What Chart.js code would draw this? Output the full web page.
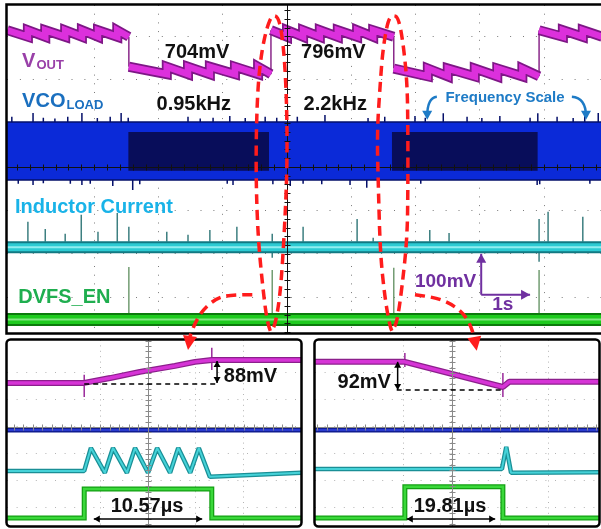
<!DOCTYPE html>
<html>
<head>
<meta charset="utf-8">
<script src="https://cdn.jsdelivr.net/npm/chart.js@4.4.1/dist/chart.umd.min.js"></script>
<style>
  html, body { margin: 0; padding: 0; background: #fff; }
  #wrap { position: relative; width: 601px; height: 529px; overflow: hidden; }
  canvas { position: absolute; }
  #topChart { left: 0; top: 0; z-index: 2; }
  #upZoom { left: 0; top: 335px; z-index: 1; }
  #downZoom { left: 310px; top: 335px; z-index: 1; }
</style>
</head>
<body>
<div id="wrap">
  <canvas id="upZoom" width="305" height="194"></canvas>
  <canvas id="downZoom" width="291" height="194"></canvas>
  <canvas id="topChart" width="601" height="529"></canvas>
</div>
<script>
// all values in scope divisions (x: grid columns, y: grid rows, 0 = screen centre)

// ---- long capture (top screen) ----
// VOUT ripple: tooth edges, level at start and end of each tooth
const voutEdges = [-4.35, -4.03, -3.76, -3.45, -3.19, -2.94, -2.64, -2.46, -1.87, -1.54, -1.20, -0.81, -0.45, -0.25,
                   0.00, 0.25, 0.51, 0.79, 1.09, 1.34, 1.66, 2.19, 2.50, 2.92, 3.27, 3.66, 3.92, 4.29, 4.60, 4.90];
const voutStart = [3.14, 3.14, 3.14, 3.14, 3.14, 3.14, 3.14, 2.30, 2.30, 2.30, 2.30, 2.30, 2.30,
                   3.14, 3.14, 3.14, 3.14, 3.14, 3.14, 3.14, 2.26, 2.26, 2.26, 2.26, 2.26, 2.26, 3.14, 3.14, 3.14];
const voutEnd   = [2.99, 2.99, 2.99, 2.99, 2.99, 2.99, 2.99, 2.13, 2.13, 2.13, 2.13, 2.13, 2.13,
                   2.99, 2.99, 2.99, 2.99, 2.99, 2.99, 2.99, 2.08, 2.08, 2.08, 2.08, 2.08, 2.08, 2.99, 2.99, 2.99];

// VCO load band and its glitches
const vcoTop = 1.03;
const vcoBottom = -0.30;
const vcoUpX = [-4.28, -3.95, -3.79, -3.61, -3.41, -3.19, -2.95, -2.75, -2.58, -2.47, -1.54, -1.35, -1.15, -0.89, -0.65, -0.34, -0.16, 0.16,
                0.59, 1.26, 1.52, 1.99, 2.15, 2.43, 2.80, 3.03, 3.31, 3.78, 3.90, 4.20, 4.45, 4.63, 4.84];
const vcoUpH = [0.12, 0.21, 0.10, 0.08, 0.12, 0.21, 0.09, 0.12, 0.21, 0.10, 0.12, 0.08, 0.10, 0.14, 0.09, 0.12, 0.10, 0.12,
                0.16, 0.09, 0.12, 0.14, 0.10, 0.20, 0.12, 0.09, 0.14, 0.10, 0.20, 0.12, 0.09, 0.14, 0.21];
const vcoDownX = [-4.18, -3.95, -3.79, -3.37, -3.19, -3.06, -2.71, -2.40, -2.29, -0.93, -0.84, -0.22, 0.05, 0.25, 0.54, 0.98,
                  1.24, 1.42, 2.08, 3.89, 3.93, 4.71];
const vcoDownH = [0.09, 0.12, 0.08, 0.09, 0.12, 0.09, 0.14, 0.23, 0.10, 0.09, 0.12, 0.10, 0.14, 0.09, 0.10, 0.12,
                  0.18, 0.10, 0.09, 0.12, 0.10, 0.09];
// slow-clock windows (dark blocks)
const slowFrom = [-2.47, 1.63];
const slowTo = [-0.28, 3.90];
const slowLevels = [0.80, -0.09];

// inductor current
const ilLevel = -1.85;
const ilEdge = -1.72;
const ilSpikeX = [-4.03, -3.76, -3.45, -3.20, -2.94, -2.64, -2.46, -1.87, -1.54, -1.20, -0.78, -0.23, 0.25, 1.09, 1.34, 2.22, 2.52, 3.92, 4.06, 4.60];
const ilSpikeTop = [-1.26, -1.43, -1.54, -1.10, -1.49, -1.06, -1.38, -1.49, -1.56, -1.45, -1.38, -1.54, -1.38, -1.20, -1.63, -1.45, -1.52, -1.20, -1.03, -1.15];
const ilDipX = [-0.23, 3.92];
const ilDipBottom = [-2.09, -2.18];

// DVFS enable
const enLevel = -3.51;
const enEdge = -3.36;
const enSpikeX = [-2.46, -0.23, 1.66, 3.92];
const enSpikeTop = [-2.30, -2.37, -2.32, -2.37];

// ---- zoom: step up (left) ----
const upVoutX = [-2.94, -1.33, -0.79, -0.17, 0.56, 0.98, 1.33, 3.19];
const upVoutY = [1.63, 1.63, 1.81, 2.04, 2.26, 2.41, 2.48, 2.48];
const upVcoX = [-2.94, 3.19];
const upVcoY = [-0.11, -0.11];
const upIlX = [-2.94, -1.33, -1.19, -0.90, -0.73, -0.44, -0.27, 0.00, 0.19, 0.46, 0.63, 0.88, 1.06, 1.29, 3.19];
const upIlY = [-1.63, -1.63, -0.78, -1.70, -0.78, -1.70, -0.78, -1.70, -0.78, -1.70, -0.78, -1.70, -0.78, -1.85, -1.70];
const upEnX = [-2.94, -1.33, -1.33, 1.33, 1.33, 3.19];
const upEnY = [-3.37, -3.37, -2.30, -2.30, -3.37, -3.37];
const upMarkX = [-1.33, 1.33];
const upMarkLo = [1.11, 2.11];
const upMarkHi = [1.93, 2.93];

// ---- zoom: step down (right) ----
const downVoutX = [-2.85, -0.98, 1.06, 1.19, 3.06];
const downVoutY = [2.41, 2.41, 1.48, 1.67, 1.67];
const downVcoX = [-2.85, 3.06];
const downVcoY = [-0.11, -0.11];
const downIlX = [-2.85, 1.04, 1.13, 1.23, 3.06];
const downIlY = [-1.56, -1.56, -0.74, -1.70, -1.68];
const downEnX = [-2.85, -0.98, -0.98, 1.06, 1.06, 3.06];
const downEnY = [-3.37, -3.37, -2.22, -2.22, -3.37, -3.37];
const downMarkX = [-0.98, 1.06];
const downMarkLo = [2.22, 1.11];
const downMarkHi = [2.74, 2.00];

// ---------- helpers ----------
function pts(xs, ys) { return xs.map((x, i) => ({ x, y: ys[i] })); }

function sticks(xs, lo, hi) {
  const out = [];
  xs.forEach((x, i) => {
    out.push({ x, y: Array.isArray(lo) ? lo[i] : lo }, { x, y: hi[i] }, { x, y: null });
  });
  return out;
}

function edgeSpikes(xs, base, h, dir, from, to) {
  const out = [{ x: from, y: base }];
  xs.forEach((x, i) => { out.push({ x, y: base }, { x, y: base + dir * h[i] }, { x, y: base }); });
  out.push({ x: to, y: base });
  return out;
}

function line(data, color, width, extra) {
  return Object.assign({
    type: 'line', data, borderColor: color, borderWidth: width,
    pointRadius: 0, fill: false, tension: 0, spanGaps: false, borderJoinStyle: 'bevel'
  }, extra || {});
}

function scale(min, max, color, dash) {
  return {
    type: 'linear', min, max,
    ticks: { display: false, stepSize: 1 },
    grid: { color, lineWidth: 1, drawTicks: false },
    border: { display: false, dash },
    afterBuildTicks: s => { s.ticks = s.ticks.filter(t => Math.abs(t.value - Math.round(t.value)) < 1e-6); }
  };
}

const FONT = '"Liberation Sans", Arial, sans-serif';

function head(ctx, x0, y0, x1, y1, len, half) {
  const a = Math.atan2(y1 - y0, x1 - x0), c = Math.cos(a), s = Math.sin(a);
  ctx.beginPath();
  ctx.moveTo(x1, y1);
  ctx.lineTo(x1 - len * c + half * s, y1 - len * s - half * c);
  ctx.lineTo(x1 - len * c - half * s, y1 - len * s + half * c);
  ctx.closePath();
  ctx.fill();
}

function smooth(ctx, p) {
  ctx.moveTo(p[0][0], p[0][1]);
  for (let i = 1; i < p.length - 1; i++) {
    ctx.quadraticCurveTo(p[i][0], p[i][1], (p[i][0] + p[i + 1][0]) / 2, (p[i][1] + p[i + 1][1]) / 2);
  }
  ctx.lineTo(p[p.length - 1][0], p[p.length - 1][1]);
}

// screen decorations: centre axes, frame, labels, arrows, red call-outs
function decor(spec) {
  return {
    id: 'decor',
    afterDatasetsDraw(chart) {
      const { ctx, chartArea: a, scales: { x, y } } = chart;
      const cx = Math.round(x.getPixelForValue(0)) + 0.5, cy = Math.round(y.getPixelForValue(0)) + 0.5;
      ctx.save();
      ctx.strokeStyle = spec.axisColor;
      ctx.lineWidth = 1;
      ctx.beginPath();
      ctx.moveTo(cx, a.top); ctx.lineTo(cx, a.bottom);
      ctx.moveTo(a.left, cy); ctx.lineTo(a.right, cy);
      for (let k = Math.ceil(y.min * 5); k <= Math.floor(y.max * 5); k++) {
        const py = Math.round(y.getPixelForValue(k / 5)) + 0.5;
        ctx.moveTo(cx - 3, py); ctx.lineTo(cx + 3, py);
      }
      for (let k = Math.ceil(x.min * 5); k <= Math.floor(x.max * 5); k++) {
        const px = Math.round(x.getPixelForValue(k / 5)) + 0.5;
        ctx.moveTo(px, cy - 3); ctx.lineTo(px, cy + 3);
      }
      ctx.stroke();
      ctx.restore();
    },
    afterDraw(chart) {
      const { ctx, chartArea: a, scales: { x, y } } = chart;
      const X = v => x.getPixelForValue(v), Y = v => y.getPixelForValue(v);
      ctx.save();

      // frame
      ctx.strokeStyle = '#000';
      ctx.lineWidth = 2.5;
      ctx.beginPath();
      if (spec.openRight) {
        ctx.moveTo(a.right + 2, a.top - 0.5);
        ctx.lineTo(a.left - 0.5, a.top - 0.5);
        ctx.lineTo(a.left - 0.5, a.bottom + 0.5);
        ctx.lineTo(a.right + 2, a.bottom + 0.5);
      } else {
        ctx.roundRect(a.left - 0.5, a.top - 0.5, a.right - a.left + 1, a.bottom - a.top + 1, 4);
      }
      ctx.stroke();

      // dashed level guides
      ctx.setLineDash([5, 4]);
      ctx.lineWidth = 1.5;
      (spec.guides || []).forEach(g => {
        ctx.beginPath();
        ctx.moveTo(X(g.x0), Y(g.y)); ctx.lineTo(X(g.x1), Y(g.y));
        ctx.stroke();
      });
      ctx.setLineDash([]);

      // double-headed measure arrows
      ctx.fillStyle = '#000';
      (spec.measures || []).forEach(m => {
        const x0 = X(m.x0), y0 = Y(m.y0), x1 = X(m.x1), y1 = Y(m.y1);
        ctx.lineWidth = 1.5;
        ctx.beginPath(); ctx.moveTo(x0, y0); ctx.lineTo(x1, y1); ctx.stroke();
        head(ctx, x1, y1, x0, y0, 6, 3.5);
        head(ctx, x0, y0, x1, y1, 6, 3.5);
      });

      // straight arrows
      (spec.arrows || []).forEach(m => {
        const x0 = X(m.x0), y0 = Y(m.y0), x1 = X(m.x1), y1 = Y(m.y1);
        ctx.strokeStyle = m.color; ctx.fillStyle = m.color; ctx.lineWidth = 2;
        ctx.beginPath(); ctx.moveTo(x0, y0); ctx.lineTo(x1, y1); ctx.stroke();
        head(ctx, x0, y0, x1, y1, 9, 5);
      });

      // bent arrows
      (spec.bends || []).forEach(b => {
        const p = b.pts.map(q => [X(q[0]), Y(q[1])]);
        ctx.strokeStyle = b.color; ctx.fillStyle = b.color; ctx.lineWidth = 2.5;
        ctx.beginPath(); ctx.moveTo(p[0][0], p[0][1]);
        ctx.quadraticCurveTo(p[1][0], p[1][1], p[2][0], p[2][1]);
        ctx.stroke();
        head(ctx, p[1][0], p[1][1], p[2][0], p[2][1] + 3, 9, 5);
      });

      // labels
      ctx.textBaseline = 'alphabetic';
      ctx.textAlign = 'left';
      (spec.texts || []).forEach(t => {
        const main = `bold ${t.size}px ${FONT}`, sub = `bold ${t.subSize || 13}px ${FONT}`;
        ctx.font = main;
        const w = ctx.measureText(t.text).width;
        let sw = 0;
        if (t.sub) { ctx.font = sub; sw = ctx.measureText(t.sub).width + 1; }
        let left = X(t.x);
        if (t.align === 'center') left -= (w + sw) / 2;
        if (t.align === 'right') left -= w + sw;
        ctx.fillStyle = t.color;
        ctx.font = main;
        ctx.fillText(t.text, left, Y(t.y));
        if (t.sub) { ctx.font = sub; ctx.fillText(t.sub, left + w + 1, Y(t.y) + 2); }
      });

      // red dashed call-outs
      ctx.strokeStyle = '#ff1c1c';
      ctx.fillStyle = '#ff1c1c';
      ctx.lineWidth = 3.5;
      (spec.callouts || []).forEach(c => {
        const p = c.pts.map(q => [X(q[0]), Y(q[1])]);
        ctx.setLineDash([10, 6]);
        ctx.beginPath();
        if (c.tip) {
          const t = [X(c.tip[0]), Y(c.tip[1])];
          smooth(ctx, p);
          ctx.stroke();
          ctx.setLineDash([]);
          const last = p[p.length - 1];
          head(ctx, last[0], last[1], t[0], t[1], 14, 7);
        } else {
          smooth(ctx, p);
          ctx.stroke();
        }
      });
      ctx.setLineDash([]);
      ctx.restore();
    }
  };
}

function makeChart(id, datasets, xr, yr, pad, grid, spec) {
  return new Chart(document.getElementById(id), {
    type: 'line',
    data: { datasets },
    options: {
      responsive: false, animation: false, devicePixelRatio: 1,
      layout: { padding: pad },
      plugins: { legend: { display: false }, tooltip: { enabled: false } },
      scales: {
        x: scale(xr[0], xr[1], grid.color, grid.xDash),
        y: scale(yr[0], yr[1], grid.color, grid.yDash)
      }
    },
    plugins: [decor(spec)]
  });
}

// ---------- top screen ----------
// ripple teeth as a thick band, broken where the output level steps;
// the level steps themselves are thin vertical strokes
const voutTeeth = [];
const voutSteps = [];
voutStart.forEach((v, i) => {
  voutTeeth.push({ x: voutEdges[i], y: v }, { x: voutEdges[i + 1], y: voutEnd[i] });
  const next = voutStart[i + 1];
  if (next !== undefined && Math.abs(next - v) > 0.4) {
    voutTeeth.push({ x: voutEdges[i + 1], y: null });
    voutSteps.push({ x: voutEdges[i + 1], y: voutEnd[i] }, { x: voutEdges[i + 1], y: next }, { x: voutEdges[i + 1], y: null });
  }
});

const X0 = -4.355, X1 = 4.883;
const topPaint = [
  line(edgeSpikes(vcoUpX, vcoTop, vcoUpH, 1, X0, X1), '#05106a', 1.5, { fill: { value: vcoBottom }, backgroundColor: '#0b2ad8' }),
  line(edgeSpikes(vcoDownX, vcoBottom, vcoDownH, -1, X0, X1), '#05106a', 1.5),
  line(pts([slowFrom[0], slowTo[0]], [slowLevels[0], slowLevels[0]]), 'rgba(0,0,0,0)', 0, { fill: { value: slowLevels[1] }, backgroundColor: '#080d5a' }),
  line(pts([slowFrom[1], slowTo[1]], [slowLevels[0], slowLevels[0]]), 'rgba(0,0,0,0)', 0, { fill: { value: slowLevels[1] }, backgroundColor: '#080d5a' }),
  line(voutSteps, '#8a2a8a', 1.5),
  line(voutTeeth, '#7e1786', 10, { borderJoinStyle: 'miter' }),
  line(voutTeeth, '#dc30dc', 6.5, { borderJoinStyle: 'miter' }),
  line(sticks(ilSpikeX, ilEdge, ilSpikeTop), '#3d7f80', 1.5),
  line(sticks(ilDipX, -1.97, ilDipBottom), '#3d7f80', 1.5),
  line(pts([X0, X1], [ilLevel, ilLevel]), '#127882', 12),
  line(pts([X0, X1], [ilLevel, ilLevel]), '#2ccbd3', 8),
  line(pts([X0, X1], [ilLevel, ilLevel]), '#90eef0', 2),
  line(sticks(enSpikeX, enEdge, enSpikeTop), '#739d73', 1.5),
  line(pts([X0, X1], [enLevel, enLevel]), '#0c7a0c', 13),
  line(pts([X0, X1], [enLevel, enLevel]), '#1ecb1e', 9),
  line(pts([X0, X1], [enLevel, enLevel]), '#80e680', 2)
];

makeChart('topChart', topPaint.reverse(), [X0, X1], [-3.82, 3.72],
  { left: 7, right: 0, top: 5, bottom: 196 },
  { color: '#7a7a7a', xDash: [1, 7.7], yDash: [1, 11.9] },
  {
    axisColor: '#111', openRight: true,
    texts: [
      { text: 'V', sub: 'OUT', x: -4.12, y: 2.30, color: '#9940a8', size: 20, subSize: 13 },
      { text: 'VCO', sub: 'LOAD', x: -4.12, y: 1.38, color: '#1a6fbf', size: 20, subSize: 13 },
      { text: '704mV', x: -1.40, y: 2.51, color: '#111', size: 20, align: 'center' },
      { text: '796mV', x: 0.72, y: 2.51, color: '#111', size: 20, align: 'center' },
      { text: '0.95kHz', x: -1.45, y: 1.31, color: '#111', size: 20, align: 'center' },
      { text: '2.2kHz', x: 0.75, y: 1.31, color: '#111', size: 20, align: 'center' },
      { text: 'Frequency Scale', x: 3.39, y: 1.49, color: '#1e7bc6', size: 15, align: 'center' },
      { text: 'Inductor Current', x: -4.23, y: -1.06, color: '#19b3e8', size: 20 },
      { text: 'DVFS_EN', x: -4.18, y: -3.13, color: '#1fae4f', size: 20 },
      { text: '100mV', x: 1.99, y: -2.76, color: '#7030a0', size: 19 },
      { text: '1s', x: 3.19, y: -3.29, color: '#7030a0', size: 19 }
    ],
    arrows: [
      { x0: 3.02, y0: -2.94, x1: 3.02, y1: -2.00, color: '#7030a0' },
      { x0: 3.02, y0: -2.94, x1: 3.78, y1: -2.94, color: '#7030a0' }
    ],
    bends: [
      { pts: [[2.33, 1.61], [2.18, 1.59], [2.18, 1.15]], color: '#1e7bc6' },
      { pts: [[4.43, 1.61], [4.65, 1.59], [4.65, 1.15]], color: '#1e7bc6' }
    ],
    callouts: [
      { pts: [[-0.26, -3.77], [-0.31, -3.59], [-0.39, -2.60], [-0.45, -1.61], [-0.48, -0.46], [-0.48, 0.78], [-0.45, 1.93],
              [-0.39, 2.69], [-0.31, 3.22], [-0.23, 3.49], [-0.14, 3.45], [-0.08, 3.08], [-0.03, 2.30], [0.00, 1.15],
              [0.00, 0.00], [-0.02, -0.83], [-0.06, -1.98], [-0.11, -2.99], [-0.19, -3.68], [-0.26, -3.77]] },
      { pts: [[1.63, -3.77], [1.60, -3.68], [1.52, -2.99], [1.45, -1.98], [1.42, -0.46], [1.40, 0.78], [1.45, 1.93],
              [1.49, 2.69], [1.57, 3.38], [1.65, 3.49], [1.73, 3.43], [1.80, 2.92], [1.87, 1.93], [1.88, 0.78],
              [1.88, -0.46], [1.87, -1.61], [1.79, -2.76], [1.71, -3.59], [1.63, -3.77]] },
      { pts: [[-0.54, -2.94], [-0.84, -2.94], [-1.09, -3.01], [-1.31, -3.29], [-1.43, -3.59], [-1.51, -3.90]], tip: [-1.54, -4.21] },
      { pts: [[1.99, -2.94], [2.27, -2.99], [2.53, -3.13], [2.74, -3.36], [2.85, -3.63], [2.91, -3.90]], tip: [2.95, -4.23] }
    ]
  });

// ---------- zoom panels ----------
function zoomLayers(vx, vy, bx, by, ix, iy, ex, ey, mx, mlo, mhi) {
  const paint = [
    line(pts(bx, by), '#101c90', 5),
    line(pts(bx, by), '#2a3bd0', 2),
    line(pts(ix, iy), '#1a8f96', 4.5),
    line(pts(ix, iy), '#45d2d8', 2),
    line(pts(ex, ey), '#13a013', 5, { borderJoinStyle: 'miter' }),
    line(pts(ex, ey), '#3ad83a', 2.5, { borderJoinStyle: 'miter' }),
    line(sticks(mx, mlo, mhi), '#9a2a9a', 1.5),
    line(pts(vx, vy), '#8c1f8c', 6),
    line(pts(vx, vy), '#d634d6', 3.5)
  ];
  return paint.reverse();
}

const zoomGrid = { color: '#b4b4b4', xDash: [1, 4.4], yDash: [1, 8.6] };

makeChart('upZoom',
  zoomLayers(upVoutX, upVoutY, upVcoX, upVcoY, upIlX, upIlY, upEnX, upEnY, upMarkX, upMarkLo, upMarkHi),
  [-2.94, 3.19], [-3.67, 3.22], { left: 7, right: 4, top: 5, bottom: 3 }, zoomGrid,
  {
    axisColor: '#8a8a8a',
    guides: [{ x0: -1.33, x1: 1.46, y: 1.59 }],
    measures: [
      { x0: 1.44, y0: 2.44, x1: 1.44, y1: 1.63 },
      { x0: -1.13, y0: -3.41, x1: 1.13, y1: -3.41 }
    ],
    texts: [
      { text: '88mV', x: 1.58, y: 1.67, color: '#111', size: 20 },
      { text: '10.57µs', x: -0.02, y: -3.15, color: '#111', size: 20, align: 'center' }
    ]
  });

makeChart('downZoom',
  zoomLayers(downVoutX, downVoutY, downVcoX, downVcoY, downIlX, downIlY, downEnX, downEnY, downMarkX, downMarkLo, downMarkHi),
  [-2.85, 3.06], [-3.67, 3.22], { left: 5, right: 2, top: 5, bottom: 3 }, zoomGrid,
  {
    axisColor: '#8a8a8a',
    guides: [{ x0: -1.15, x1: 1.06, y: 1.37 }],
    measures: [
      { x0: -1.13, y0: 2.41, x1: -1.13, y1: 1.37 },
      { x0: -0.94, y0: -3.41, x1: 0.90, y1: -3.41 }
    ],
    texts: [
      { text: '92mV', x: -1.27, y: 1.44, color: '#111', size: 20, align: 'right' },
      { text: '19.81µs', x: -0.04, y: -3.15, color: '#111', size: 20, align: 'center' }
    ]
  });
</script>
</body>
</html>
